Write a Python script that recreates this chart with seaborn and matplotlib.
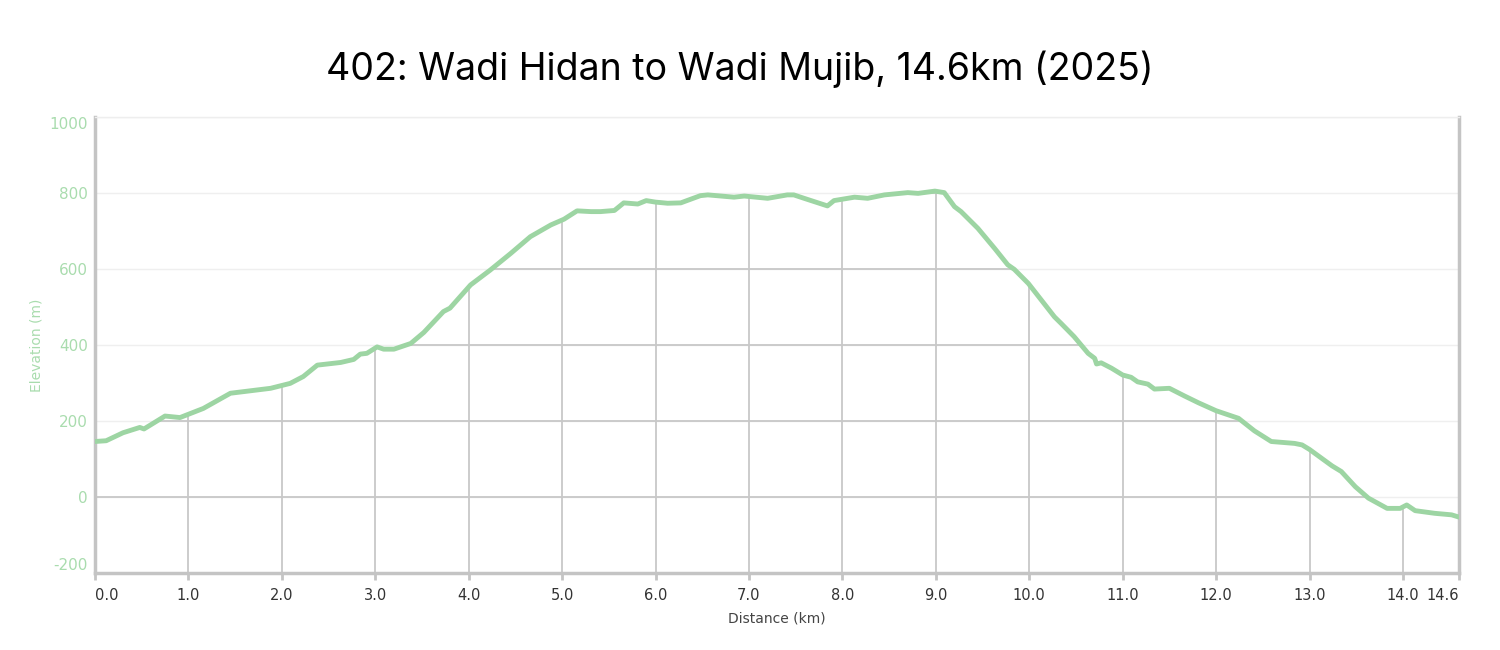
import seaborn as sns
import matplotlib.pyplot as plt
import numpy as np
import pandas as pd

# distance (km) and elevation (m)
distance = [0.0, 0.12, 0.30, 0.48, 0.525, 0.75, 0.91, 1.16, 1.45, 1.88, 2.09, 2.23,
            2.38, 2.63, 2.77, 2.84, 2.91, 3.02, 3.09, 3.20, 3.38, 3.52, 3.73, 3.80,
            4.02, 4.23, 4.45, 4.66, 4.88, 5.02, 5.16, 5.31, 5.41, 5.56, 5.66, 5.81,
            5.90, 6.00, 6.13, 6.27, 6.48, 6.56, 6.84, 6.95, 7.20, 7.41, 7.48, 7.59,
            7.84, 7.91, 8.13, 8.27, 8.45, 8.70, 8.81, 8.99, 9.09, 9.20, 9.27, 9.45,
            9.63, 9.77, 9.84, 9.99, 10.13, 10.27, 10.34, 10.48, 10.63, 10.70, 10.72,
            10.77, 10.88, 11.00, 11.09, 11.16, 11.27, 11.34, 11.50, 11.66, 11.81,
            12.00, 12.24, 12.41, 12.59, 12.84, 12.92, 13.00, 13.24, 13.34, 13.49,
            13.63, 13.83, 13.97, 14.04, 14.13, 14.34, 14.52, 14.60]
elevation = [146, 148, 169, 183, 179, 213, 209, 233, 273, 286, 299, 317,
             347, 354, 362, 376, 378, 395, 389, 389, 404, 433, 488, 497,
             558, 597, 641, 685, 716, 731, 753, 751, 751, 754, 774, 771,
             780, 776, 773, 774, 793, 795, 789, 792, 786, 795, 795, 786,
             766, 780, 789, 786, 795, 801, 799, 805, 801, 764, 751, 707,
             654, 611, 599, 562, 518, 474, 457, 422, 378, 365, 350,
             353, 339, 321, 315, 303, 297, 284, 286, 266, 248,
             227, 207, 174, 146, 141, 137, 125, 82, 67, 27,
             -3, -30, -30, -21, -36, -43, -47, -53]

x_ticks = [0, 1, 2, 3, 4, 5, 6, 7, 8, 9, 10, 11, 12, 13, 14, 14.6]
y_ticks = [-200, 0, 200, 400, 600, 800, 1000]
title = "402: Wadi Hidan to Wadi Mujib, 14.6km (2025)"

df = pd.DataFrame({"Distance (km)": distance, "Elevation (m)": elevation})

green = "#9dd5a3"
green_txt = "#a9dcae"
axis_gray = "#c4c4c4"

sns.set_theme(style="white")
plt.rcParams["font.family"] = ["DejaVu Sans"]

fig = plt.figure(figsize=(15, 6.5), dpi=100)
ax = fig.add_axes([0.0633, 0.1185, 0.9094, 0.7015])

xmax = distance[-1]
ax.set_xlim(0, xmax)
ax.set_ylim(-200, 1000)

# faint horizontal grid everywhere
for yv in y_ticks[1:]:
    ax.axhline(yv, color="#efefef", lw=1, zorder=1)

# area below the profile, used to clip the darker grid
poly = ax.fill_between(distance, elevation, -200, facecolor="none", edgecolor="none")
hl = ax.hlines(y_ticks[1:-1], 0, xmax, colors="#c8c8c8", lw=1.3, zorder=2)
vl = ax.vlines(x_ticks[1:-1], -200, 1000, colors="#c8c8c8", lw=1.3, zorder=2)
for coll in (hl, vl):
    coll.set_clip_path(poly.get_paths()[0], ax.transData)

sns.lineplot(data=df, x="Distance (km)", y="Elevation (m)", ax=ax,
             color=green, lw=3.5, zorder=3)

# spines
for side in ("left", "bottom", "right"):
    ax.spines[side].set_color(axis_gray)
    ax.spines[side].set_linewidth(2.5)
ax.spines["top"].set_color("#eeeeee")
ax.spines["top"].set_linewidth(1)

ax.set_xticks(x_ticks)
ax.set_xticklabels([f"{v:.1f}" for v in x_ticks], fontsize=10.5, color="#333333")
ax.tick_params(axis="x", bottom=True, length=5, width=2, color=axis_gray, pad=6)
xlabs = ax.get_xticklabels()
xlabs[0].set_ha("left")
xlabs[-1].set_ha("right")

ax.set_yticks(y_ticks)
ax.set_yticklabels([str(v) for v in y_ticks], fontsize=11, color=green_txt)
ax.tick_params(axis="y", left=False, length=0, pad=5)
ylabs = ax.get_yticklabels()
ylabs[0].set_va("bottom")
ylabs[-1].set_va("top")

ax.set_xlabel("Distance (km)", fontsize=10, color="#444444", labelpad=6)
ax.set_ylabel("Elevation (m)", fontsize=10, color=green_txt, labelpad=4)

fig.text(0.493, 0.893, title, ha="center", va="center", fontsize=27,
         family=["Inter", "DejaVu Sans"], color="black")

fig.savefig("out.png", dpi=100)
